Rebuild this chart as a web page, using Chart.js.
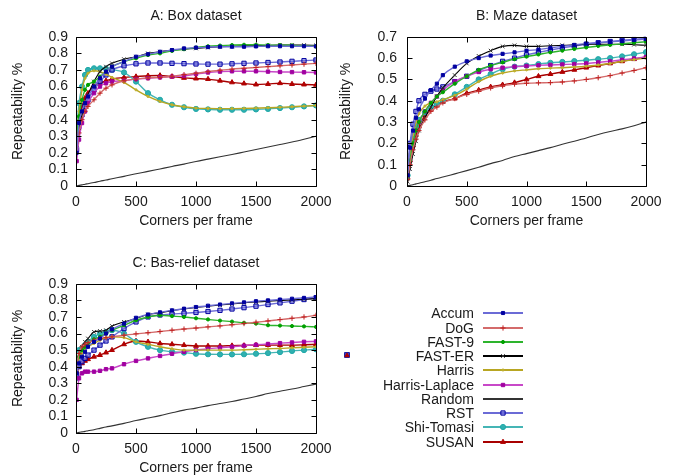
<!DOCTYPE html>
<html>
<head>
<meta charset="utf-8">
<script src="https://cdn.jsdelivr.net/npm/chart.js@4.4.1/dist/chart.umd.min.js"></script>
<style>
  body { margin: 0; background: #fff; width: 679px; height: 476px; position: relative; overflow: hidden;
         font-family: "Liberation Sans", Arial, sans-serif; color: #1a1a1a; }
  canvas.panel { position: absolute; }
  .lab { position: absolute; left: 0; width: 474px; height: 16px; line-height: 16px; font-size: 14px; text-align: right; white-space: nowrap; }
  .sample { position: absolute; left: 481px; }
</style>
</head>
<body>
<canvas class="panel" id="boxChart" width="340" height="230" style="left:0;top:0"></canvas>
<canvas class="panel" id="mazeChart" width="341" height="230" style="left:338px;top:0"></canvas>
<canvas class="panel" id="reliefChart" width="340" height="230" style="left:0;top:247px"></canvas>
<div id="legend"></div>
<script>
// corners per frame (x) shared by all curves
const corners = [5, 25, 50, 75, 100, 150, 200, 250, 300, 400, 500, 600, 700, 800, 900, 1000, 1100, 1200, 1300, 1400, 1500, 1600, 1700, 1800, 1900, 2000];
const detectors = ['Accum', 'DoG', 'FAST-9', 'FAST-ER', 'Harris', 'Harris-Laplace', 'Random', 'RST', 'Shi-Tomasi', 'SUSAN'];

// A: Box dataset
const boxAccum = [0.2,0.38,0.45,0.5,0.54,0.6,0.65,0.69,0.72,0.75,0.78,0.795,0.81,0.82,0.83,0.835,0.838,0.84,0.84,0.84,0.842,0.843,0.843,0.843,0.843,0.842];
const boxDoG = [0.2,0.32,0.4,0.45,0.48,0.52,0.56,0.59,0.61,0.635,0.645,0.652,0.655,0.662,0.672,0.68,0.69,0.698,0.705,0.71,0.715,0.72,0.725,0.73,0.735,0.74];
const boxFast9 = [0.3,0.42,0.52,0.58,0.61,0.63,0.66,0.69,0.72,0.75,0.77,0.79,0.8,0.815,0.825,0.835,0.843,0.847,0.85,0.852,0.852,0.85,0.85,0.848,0.845,0.842];
const boxFastER = [0.25,0.35,0.43,0.5,0.55,0.63,0.69,0.72,0.74,0.765,0.78,0.8,0.81,0.82,0.825,0.83,0.835,0.84,0.842,0.845,0.847,0.848,0.85,0.85,0.85,0.848];
const boxHarris = [0.3,0.45,0.58,0.65,0.68,0.695,0.69,0.675,0.655,0.625,0.58,0.54,0.51,0.49,0.478,0.47,0.468,0.467,0.467,0.468,0.47,0.472,0.475,0.478,0.482,0.486];
const boxHarrisLaplace = [0.15,0.28,0.38,0.45,0.5,0.56,0.6,0.62,0.63,0.635,0.645,0.65,0.655,0.66,0.665,0.675,0.685,0.69,0.692,0.692,0.692,0.69,0.688,0.687,0.686,0.685];
const boxRandom = [0.001,0.004,0.007,0.011,0.014,0.021,0.029,0.036,0.044,0.058,0.074,0.088,0.103,0.118,0.132,0.148,0.162,0.176,0.19,0.205,0.22,0.235,0.25,0.265,0.282,0.3];
const boxRST = [0.22,0.36,0.43,0.48,0.52,0.58,0.63,0.67,0.7,0.725,0.737,0.742,0.742,0.74,0.738,0.736,0.735,0.735,0.737,0.74,0.742,0.745,0.748,0.752,0.756,0.76];
const boxShiTomasi = [0.33,0.5,0.6,0.67,0.7,0.71,0.71,0.708,0.702,0.685,0.63,0.56,0.52,0.49,0.475,0.465,0.462,0.46,0.46,0.46,0.462,0.465,0.47,0.475,0.48,0.486];
const boxSUSAN = [0.3,0.4,0.48,0.53,0.56,0.6,0.62,0.635,0.645,0.655,0.66,0.665,0.667,0.66,0.652,0.648,0.645,0.635,0.625,0.618,0.612,0.615,0.62,0.615,0.612,0.61];

// B: Maze dataset
const mazeAccum = [0.05,0.18,0.26,0.32,0.36,0.41,0.45,0.48,0.52,0.56,0.585,0.6,0.612,0.62,0.627,0.635,0.64,0.648,0.655,0.662,0.668,0.672,0.676,0.68,0.685,0.69];
const mazeDoG = [0.03,0.1,0.17,0.22,0.26,0.31,0.35,0.37,0.39,0.41,0.43,0.445,0.46,0.47,0.478,0.482,0.484,0.485,0.488,0.493,0.5,0.508,0.518,0.53,0.542,0.555];
const mazeFast9 = [0.04,0.12,0.2,0.26,0.3,0.35,0.39,0.42,0.44,0.48,0.515,0.545,0.565,0.58,0.595,0.607,0.617,0.627,0.635,0.643,0.65,0.657,0.662,0.667,0.672,0.677];
const mazeFastER = [0.02,0.08,0.15,0.21,0.26,0.32,0.37,0.42,0.46,0.52,0.575,0.61,0.635,0.655,0.66,0.655,0.655,0.658,0.66,0.662,0.665,0.665,0.665,0.665,0.663,0.66];
const mazeHarris = [0.05,0.15,0.24,0.3,0.34,0.375,0.39,0.395,0.405,0.425,0.455,0.49,0.515,0.53,0.54,0.545,0.55,0.553,0.555,0.558,0.562,0.568,0.575,0.585,0.593,0.6];
const mazeHarrisLaplace = [0.04,0.12,0.2,0.26,0.3,0.35,0.39,0.42,0.45,0.49,0.515,0.535,0.548,0.555,0.56,0.563,0.566,0.568,0.57,0.572,0.575,0.58,0.585,0.592,0.598,0.605];
const mazeRandom = [0.001,0.003,0.006,0.01,0.013,0.02,0.027,0.035,0.042,0.057,0.072,0.088,0.105,0.12,0.138,0.152,0.166,0.18,0.196,0.21,0.225,0.242,0.256,0.268,0.283,0.3];
const mazeRST = [0.08,0.2,0.29,0.35,0.4,0.43,0.445,0.455,0.465,0.49,0.515,0.54,0.565,0.585,0.6,0.615,0.627,0.638,0.648,0.657,0.665,0.672,0.678,0.683,0.688,0.692];
const mazeShiTomasi = [0.05,0.14,0.22,0.28,0.31,0.345,0.37,0.385,0.4,0.43,0.465,0.5,0.525,0.548,0.56,0.565,0.572,0.578,0.582,0.586,0.59,0.595,0.6,0.608,0.618,0.628];
const mazeSUSAN = [0.04,0.12,0.19,0.24,0.28,0.33,0.36,0.38,0.395,0.41,0.435,0.45,0.465,0.475,0.485,0.5,0.515,0.525,0.535,0.545,0.555,0.565,0.575,0.585,0.595,0.605];

// C: Bas-relief dataset
const reliefAccum = [0.36,0.42,0.46,0.49,0.52,0.55,0.57,0.6,0.625,0.66,0.695,0.715,0.728,0.74,0.75,0.76,0.768,0.775,0.782,0.788,0.795,0.8,0.805,0.81,0.815,0.82];
const reliefDoG = [0.38,0.48,0.52,0.535,0.545,0.56,0.57,0.575,0.58,0.59,0.598,0.605,0.612,0.62,0.627,0.633,0.64,0.646,0.653,0.66,0.668,0.676,0.684,0.692,0.7,0.71];
const reliefFast9 = [0.4,0.46,0.5,0.52,0.54,0.565,0.58,0.6,0.62,0.65,0.68,0.7,0.71,0.705,0.7,0.692,0.685,0.678,0.672,0.665,0.66,0.65,0.648,0.645,0.643,0.64];
const reliefFastER = [0.38,0.47,0.52,0.55,0.57,0.61,0.615,0.62,0.645,0.67,0.69,0.715,0.725,0.738,0.748,0.757,0.765,0.772,0.778,0.785,0.79,0.795,0.8,0.803,0.807,0.81];
const reliefHarris = [0.38,0.45,0.48,0.5,0.52,0.54,0.56,0.575,0.58,0.575,0.55,0.535,0.52,0.508,0.5,0.5,0.5,0.5,0.5,0.502,0.505,0.508,0.51,0.514,0.517,0.52];
const reliefHarrisLaplace = [0.2,0.33,0.36,0.37,0.37,0.37,0.375,0.385,0.39,0.415,0.435,0.45,0.465,0.478,0.49,0.5,0.508,0.515,0.52,0.527,0.532,0.537,0.542,0.546,0.55,0.553];
const reliefRandom = [0.001,0.004,0.007,0.01,0.014,0.02,0.028,0.036,0.043,0.058,0.075,0.09,0.105,0.122,0.138,0.15,0.165,0.178,0.19,0.205,0.22,0.238,0.252,0.265,0.28,0.295];
const reliefRST = [0.35,0.4,0.43,0.45,0.47,0.5,0.53,0.555,0.58,0.63,0.67,0.7,0.712,0.718,0.722,0.727,0.733,0.74,0.748,0.756,0.765,0.775,0.785,0.795,0.805,0.815];
const reliefShiTomasi = [0.33,0.5,0.51,0.53,0.55,0.58,0.6,0.61,0.62,0.6,0.55,0.52,0.5,0.49,0.485,0.478,0.475,0.474,0.474,0.475,0.478,0.482,0.488,0.495,0.5,0.505];
const reliefSUSAN = [0.37,0.4,0.42,0.435,0.445,0.46,0.47,0.485,0.5,0.535,0.555,0.55,0.54,0.535,0.53,0.525,0.525,0.525,0.527,0.528,0.53,0.53,0.53,0.53,0.532,0.535];

// tick labels
const xTicks = [0, 500, 1000, 1500, 2000];
const yTicksTall = [0, 0.1, 0.2, 0.3, 0.4, 0.5, 0.6, 0.7, 0.8, 0.9];
const yTicksMaze = [0, 0.1, 0.2, 0.3, 0.4, 0.5, 0.6, 0.7];

// styles, one per detector
const lineColors = ['#6b6bd6', '#d46b6b', '#2db42d', '#000000', '#b8a622', '#c848c8', '#333333', '#6b6bd6', '#45b5b5', '#a80000'];
const markColors = ['#0000a0', '#c02020', '#00a000', '#303030', '#c0b030', '#a000a0', '#303030', '#0000a0', '#20a8a8', '#b00000'];
const markFills  = ['#0000a0', '#c02020', '#00a000', '#303030', '#c0b030', '#a000a0', '#303030', 'rgba(110,110,220,0.6)', '#30b0b0', '#b00000'];
const markShapes = ['rect', 'cross', 'circle', 'crossRot', 'circle', 'rect', 'circle', 'rect', 'circle', 'triangle'];
const markSizes  = [2.2, 2.6, 1.6, 2.6, 1.1, 2.4, 0, 3, 2.6, 2.8];

const FONT = { family: '"Liberation Sans", Arial, sans-serif', size: 14 };
const TEXT = '#1a1a1a';

// box with inner ticks on all four sides, like gnuplot
const frameTicks = {
    id: 'frameTicks',
    afterDatasetsDraw(chart) {
        const { ctx, chartArea: a, scales: { x, y } } = chart;
        const L = Math.round(a.left) + 0.5, R = Math.round(a.right) + 0.5;
        const T = Math.round(a.top) + 0.5, B = Math.round(a.bottom) + 0.5;
        ctx.save();
        ctx.strokeStyle = '#000';
        ctx.lineWidth = 1;
        ctx.beginPath();
        x.ticks.forEach(t => {
            const px = Math.round(x.getPixelForValue(t.value)) + 0.5;
            ctx.moveTo(px, B); ctx.lineTo(px, B - 5);
            ctx.moveTo(px, T); ctx.lineTo(px, T + 5);
        });
        y.ticks.forEach(t => {
            const py = Math.round(y.getPixelForValue(t.value)) + 0.5;
            ctx.moveTo(L, py); ctx.lineTo(L + 5, py);
            ctx.moveTo(R, py); ctx.lineTo(R - 5, py);
        });
        ctx.rect(L, T, R - L, B - T);
        ctx.stroke();
        ctx.restore();
    }
};

function makePanel(id, title, series, yTicks, box) {
    const datasets = series.map((vals, i) => ({
        label: detectors[i],
        data: vals.map((v, k) => ({ x: corners[k], y: v })),
        borderColor: lineColors[i],
        borderWidth: i === 6 || i === 3 ? 1.1 : 1.4,
        pointStyle: markShapes[i],
        pointRadius: markSizes[i],
        pointBorderWidth: 1,
        pointBorderColor: markColors[i],
        pointBackgroundColor: markFills[i],
        cubicInterpolationMode: 'monotone',
        fill: false
    }));
    new Chart(document.getElementById(id), {
        type: 'line',
        data: { datasets },
        plugins: [frameTicks],
        options: {
            responsive: false,
            animation: false,
            devicePixelRatio: 1,
            layout: { padding: { left: 0, right: box.right, top: 0, bottom: 0 } },
            plugins: {
                legend: { display: false },
                tooltip: { enabled: false },
                title: {
                    display: true, text: title, color: TEXT, font: { ...FONT, weight: 'normal' },
                    fullSize: false, padding: { top: 8, bottom: 12 }
                }
            },
            scales: {
                x: {
                    type: 'linear', min: 0, max: 2000,
                    afterBuildTicks: s => { s.ticks = xTicks.map(v => ({ value: v })); },
                    afterFit: s => { s.height = 44; },
                    grid: { display: false, drawTicks: false },
                    border: { display: false },
                    ticks: { color: TEXT, font: FONT, padding: 8, maxRotation: 0, autoSkip: false, callback: v => String(v) },
                    title: { display: true, text: 'Corners per frame', color: TEXT, font: FONT, padding: { top: 0, bottom: 0 } }
                },
                y: {
                    min: 0, max: yTicks[yTicks.length - 1],
                    afterBuildTicks: s => { s.ticks = yTicks.map(v => ({ value: v })); },
                    afterFit: s => { s.width = box.yWidth; },
                    grid: { display: false, drawTicks: false },
                    border: { display: false },
                    ticks: { color: TEXT, font: FONT, padding: box.tickPad, autoSkip: false,
                             callback: v => String(Math.round(v * 10) / 10) },
                    title: { display: true, text: 'Repeatability %', color: TEXT, font: FONT, padding: { top: box.titlePad, bottom: 0 } }
                }
            }
        }
    });
}

makePanel('boxChart', 'A: Box dataset',
    [boxAccum, boxDoG, boxFast9, boxFastER, boxHarris, boxHarrisLaplace, boxRandom, boxRST, boxShiTomasi, boxSUSAN],
    yTicksTall, { right: 24, yWidth: 76, tickPad: 8, titlePad: 10 });
makePanel('mazeChart', 'B: Maze dataset',
    [mazeAccum, mazeDoG, mazeFast9, mazeFastER, mazeHarris, mazeHarrisLaplace, mazeRandom, mazeRST, mazeShiTomasi, mazeSUSAN],
    yTicksMaze, { right: 33, yWidth: 69, tickPad: 10, titlePad: 0 });
makePanel('reliefChart', 'C: Bas-relief dataset',
    [reliefAccum, reliefDoG, reliefFast9, reliefFastER, reliefHarris, reliefHarrisLaplace, reliefRandom, reliefRST, reliefShiTomasi, reliefSUSAN],
    yTicksTall, { right: 24, yWidth: 76, tickPad: 8, titlePad: 10 });

// marker for the legend samples
function drawMark(ctx, shape, r, x, y, stroke, fill) {
    if (r <= 0) return;
    ctx.strokeStyle = stroke; ctx.fillStyle = fill; ctx.lineWidth = 1;
    ctx.beginPath();
    if (shape === 'rect') {
        const s = r * Math.SQRT1_2;
        ctx.rect(x - s, y - s, 2 * s, 2 * s); ctx.fill(); ctx.stroke();
    } else if (shape === 'circle') {
        ctx.arc(x, y, r, 0, Math.PI * 2); ctx.fill(); ctx.stroke();
    } else if (shape === 'triangle') {
        ctx.moveTo(x, y - r); ctx.lineTo(x + r * 0.87, y + r * 0.5); ctx.lineTo(x - r * 0.87, y + r * 0.5);
        ctx.closePath(); ctx.fill(); ctx.stroke();
    } else if (shape === 'cross') {
        ctx.moveTo(x - r, y); ctx.lineTo(x + r, y); ctx.moveTo(x, y - r); ctx.lineTo(x, y + r); ctx.stroke();
    } else if (shape === 'crossRot') {
        const d = r * 0.7;
        ctx.moveTo(x - d, y - d); ctx.lineTo(x + d, y + d); ctx.moveTo(x + d, y - d); ctx.lineTo(x - d, y + d); ctx.stroke();
    }
}

const legend = document.getElementById('legend');
detectors.forEach((name, i) => {
    const cy = 313.3 + i * 14.27;
    const lab = document.createElement('div');
    lab.className = 'lab';
    lab.style.top = (cy - 8) + 'px';
    lab.textContent = name;
    legend.appendChild(lab);
    const c = document.createElement('canvas');
    c.className = 'sample';
    c.width = 44; c.height = 12;
    c.style.top = (cy - 6) + 'px';
    legend.appendChild(c);
    const ctx = c.getContext('2d');
    ctx.strokeStyle = lineColors[i];
    ctx.lineWidth = 2;
    ctx.beginPath(); ctx.moveTo(2, 6); ctx.lineTo(42, 6); ctx.stroke();
    drawMark(ctx, markShapes[i], markSizes[i], 22, 6, markColors[i], markFills[i]);
});

// stray key sample left of the legend
const stray = document.createElement('canvas');
stray.className = 'sample';
stray.width = 10; stray.height = 10;
stray.style.left = '342px'; stray.style.top = '350px';
legend.appendChild(stray);
const sctx = stray.getContext('2d');
drawMark(sctx, 'rect', 3.5, 5, 5, '#2020a0', '#4040c0');
drawMark(sctx, 'triangle', 2.4, 5, 5.5, '#b00000', '#b00000');
</script>
</body>
</html>
